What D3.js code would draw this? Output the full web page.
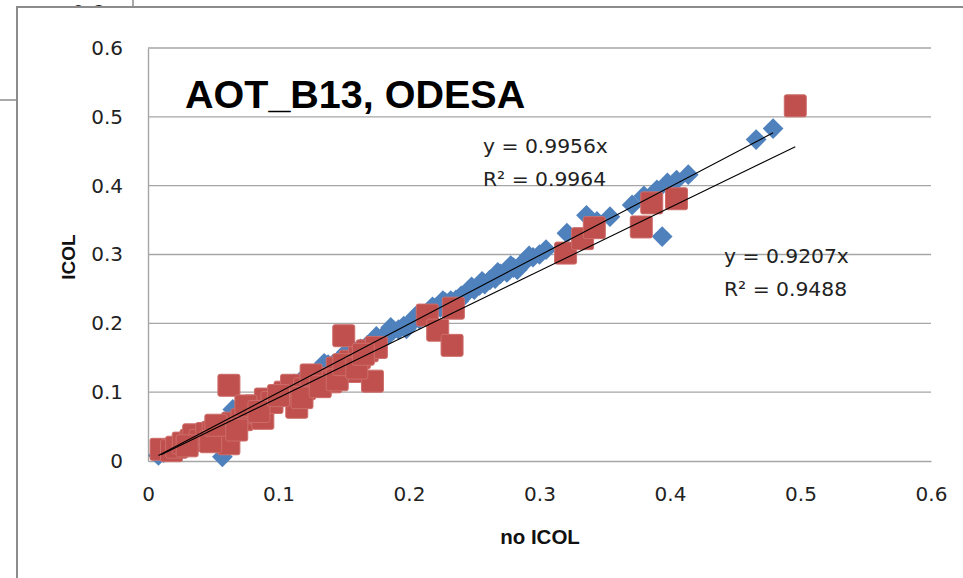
<!DOCTYPE html>
<html>
<head>
<meta charset="utf-8">
<script src="https://cdn.jsdelivr.net/npm/d3@7"></script>
<style>
  html, body { margin: 0; padding: 0; background: #fff; }
  svg { display: block; }
</style>
</head>
<body>
<svg id="chart" width="963" height="578"></svg>
<script>
// AOT at band 13 over Odesa: retrieval with ICOL correction vs without
const chartTitle = "AOT_B13, ODESA";
const xAxisTitle = "no ICOL";
const yAxisTitle = "ICOL";
const tickValues = [0, 0.1, 0.2, 0.3, 0.4, 0.5, 0.6];
const tickLabels = ["0", "0.1", "0.2", "0.3", "0.4", "0.5", "0.6"];

// series 1 (blue diamonds): [no ICOL, ICOL]
const seriesBlue = [
  [0.008,0.008],[0.012,0.012],[0.018,0.017],[0.022,0.024],[0.028,0.027],[0.032,0.033],
  [0.038,0.036],[0.042,0.043],[0.048,0.046],[0.053,0.052],[0.057,0.006],[0.058,0.057],
  [0.063,0.062],[0.065,0.075],[0.068,0.066],[0.073,0.072],[0.078,0.077],[0.083,0.081],
  [0.088,0.088],[0.092,0.090],[0.097,0.097],[0.100,0.100],[0.105,0.103],[0.108,0.110],
  [0.112,0.112],[0.117,0.115],[0.120,0.122],[0.125,0.124],[0.130,0.131],[0.134,0.133],
  [0.138,0.140],[0.142,0.141],[0.147,0.148],[0.150,0.152],[0.155,0.154],[0.158,0.160],
  [0.163,0.163],[0.168,0.168],[0.172,0.170],[0.176,0.177],[0.180,0.181],[0.184,0.183],
  [0.188,0.190],[0.192,0.191],[0.196,0.196],[0.200,0.199],[0.204,0.205],[0.208,0.206],
  [0.212,0.213],[0.216,0.215],[0.220,0.222],[0.224,0.223],[0.228,0.230],[0.232,0.233],
  [0.236,0.234],[0.240,0.240],[0.245,0.246],[0.250,0.249],[0.254,0.255],[0.258,0.257],
  [0.262,0.263],[0.266,0.265],[0.270,0.272],[0.275,0.274],[0.280,0.281],[0.285,0.284],
  [0.290,0.292],[0.295,0.296],[0.300,0.300],[0.305,0.307],[0.321,0.331],[0.336,0.357],
  [0.344,0.348],[0.354,0.355],[0.371,0.372],[0.380,0.385],[0.390,0.394],[0.394,0.326],
  [0.398,0.404],[0.405,0.408],[0.414,0.416],[0.466,0.467],[0.479,0.483],
  [0.135,0.142],[0.152,0.158],[0.175,0.181],[0.186,0.194],[0.205,0.210],[0.218,0.224],
  [0.226,0.233],[0.248,0.253],[0.256,0.261],[0.268,0.274],[0.278,0.284],[0.292,0.298],
  [0.198,0.192],[0.238,0.232],[0.283,0.278],[0.160,0.153]
];

// series 2 (red squares): [no ICOL, ICOL]
const seriesRed = [
  [0.010,0.017],[0.018,0.015],[0.022,0.020],[0.027,0.026],[0.033,0.030],[0.035,0.038],
  [0.040,0.030],[0.045,0.040],[0.050,0.042],[0.055,0.045],[0.058,0.030],[0.062,0.025],
  [0.062,0.110],[0.065,0.055],[0.072,0.060],[0.078,0.070],[0.082,0.080],[0.088,0.062],
  [0.090,0.090],[0.095,0.085],[0.105,0.100],[0.110,0.110],[0.114,0.078],[0.120,0.105],
  [0.128,0.115],[0.135,0.120],[0.140,0.115],[0.145,0.135],[0.150,0.182],[0.155,0.145],
  [0.156,0.130],[0.162,0.150],[0.168,0.160],[0.172,0.116],[0.175,0.165],[0.214,0.212],
  [0.222,0.190],[0.234,0.222],[0.233,0.168],[0.320,0.302],[0.333,0.323],[0.342,0.339],
  [0.378,0.340],[0.386,0.375],[0.405,0.381],[0.496,0.516],
  [0.030,0.022],[0.048,0.028],[0.052,0.052],[0.068,0.045],[0.075,0.080],[0.085,0.072],
  [0.100,0.095],[0.118,0.092],[0.125,0.125],[0.132,0.108],[0.145,0.118],[0.150,0.140],
  [0.160,0.135],[0.165,0.155]
];

// linear trendlines through the origin
const slopes = [0.9956, 0.9207];
const fitLabels = [
  ["y = 0.9956x", "R² = 0.9964"],
  ["y = 0.9207x", "R² = 0.9488"]
];

const svg = d3.select("#chart");
const W = 963, H = 578;

// worksheet remnants behind the chart frame
svg.append("line").attr("x1", 133).attr("x2", 133).attr("y1", 0).attr("y2", 10)
  .attr("stroke", "#8c8c8c").attr("stroke-width", 1.5);
svg.append("line").attr("x1", 0).attr("x2", 20).attr("y1", 100).attr("y2", 100)
  .attr("stroke", "#8c8c8c").attr("stroke-width", 1.5);
svg.append("text").attr("x", 88).attr("y", 19).attr("text-anchor", "middle")
  .attr("font-family", "DejaVu Sans").attr("font-size", 20).attr("fill", "#222")
  .text("0.6");

// chart frame
svg.append("rect").attr("x", 17).attr("y", 7).attr("width", W).attr("height", H)
  .attr("fill", "#fff").attr("stroke", "#8c8c8c").attr("stroke-width", 2);

const x = d3.scaleLinear().domain([0, 0.6]).range([148, 931]);
const y = d3.scaleLinear().domain([0, 0.6]).range([461, 48]);

// gridlines
svg.append("g").selectAll("line").data(tickValues.slice(1)).join("line")
  .attr("x1", x(0)).attr("x2", x(0.6))
  .attr("y1", d => y(d)).attr("y2", d => y(d))
  .attr("stroke", "#a6a6a6").attr("stroke-width", 1.4);

// axes
const yAxis = d3.axisLeft(y).tickValues(tickValues)
  .tickFormat((d, i) => tickLabels[i]).tickSize(0).tickPadding(25);
const xAxis = d3.axisBottom(x).tickValues(tickValues)
  .tickFormat((d, i) => tickLabels[i]).tickSize(0).tickPadding(26);

const gy = svg.append("g").attr("transform", `translate(${x(0)},0)`).call(yAxis);
const gx = svg.append("g").attr("transform", `translate(0,${y(0)})`).call(xAxis);
[gx, gy].forEach(g => {
  g.select(".domain").attr("stroke", "#a6a6a6").attr("stroke-width", 1.4);
  g.selectAll("text").attr("font-family", "DejaVu Sans").attr("font-size", 20)
    .attr("fill", "#222");
});

// title
svg.append("text").attr("x", 185).attr("y", 108)
  .attr("font-family", "Liberation Sans, Arial, sans-serif").attr("font-weight", "bold")
  .attr("font-size", 39.5).attr("fill", "#000").text(chartTitle);

// axis titles
svg.append("text").attr("x", 540).attr("y", 544).attr("text-anchor", "middle")
  .attr("font-family", "Liberation Sans, Arial, sans-serif").attr("font-weight", "bold")
  .attr("font-size", 20.5).attr("fill", "#111").text(xAxisTitle);
svg.append("text").attr("transform", "translate(75,257) rotate(-90)")
  .attr("text-anchor", "middle")
  .attr("font-family", "Liberation Sans, Arial, sans-serif").attr("font-weight", "bold")
  .attr("font-size", 19).attr("fill", "#111").text(yAxisTitle);

// markers: blue diamonds first, red squares on top
const diamond = d3.symbol().type(d3.symbolSquare).size(215);
svg.append("g").selectAll("path").data(seriesBlue).join("path")
  .attr("d", diamond)
  .attr("transform", d => `translate(${x(d[0])},${y(d[1])}) rotate(45)`)
  .attr("fill", "#4f81bd");

const sq = 22;
svg.append("g").selectAll("rect").data(seriesRed).join("rect")
  .attr("x", d => x(d[0]) - sq / 2).attr("y", d => y(d[1]) - sq / 2)
  .attr("width", sq).attr("height", sq).attr("rx", 2)
  .attr("fill", "#c0504d").attr("stroke", "#cd6d6a").attr("stroke-width", 1);

// trendlines spanning each series' x range
[seriesBlue, seriesRed].forEach((s, i) => {
  const [x0, x1] = d3.extent(s, d => d[0]);
  svg.append("line")
    .attr("x1", x(x0)).attr("y1", y(slopes[i] * x0))
    .attr("x2", x(x1)).attr("y2", y(slopes[i] * x1))
    .attr("stroke", "#000").attr("stroke-width", 1.1);
});

// trendline equations
const labelPos = [[483, 153], [724, 263]];
fitLabels.forEach((lines, i) => {
  lines.forEach((t, j) => {
    svg.append("text").attr("x", labelPos[i][0]).attr("y", labelPos[i][1] + j * 33)
      .attr("font-family", "DejaVu Sans").attr("font-size", 20.3).attr("fill", "#222")
      .text(t);
  });
});
</script>
</body>
</html>
